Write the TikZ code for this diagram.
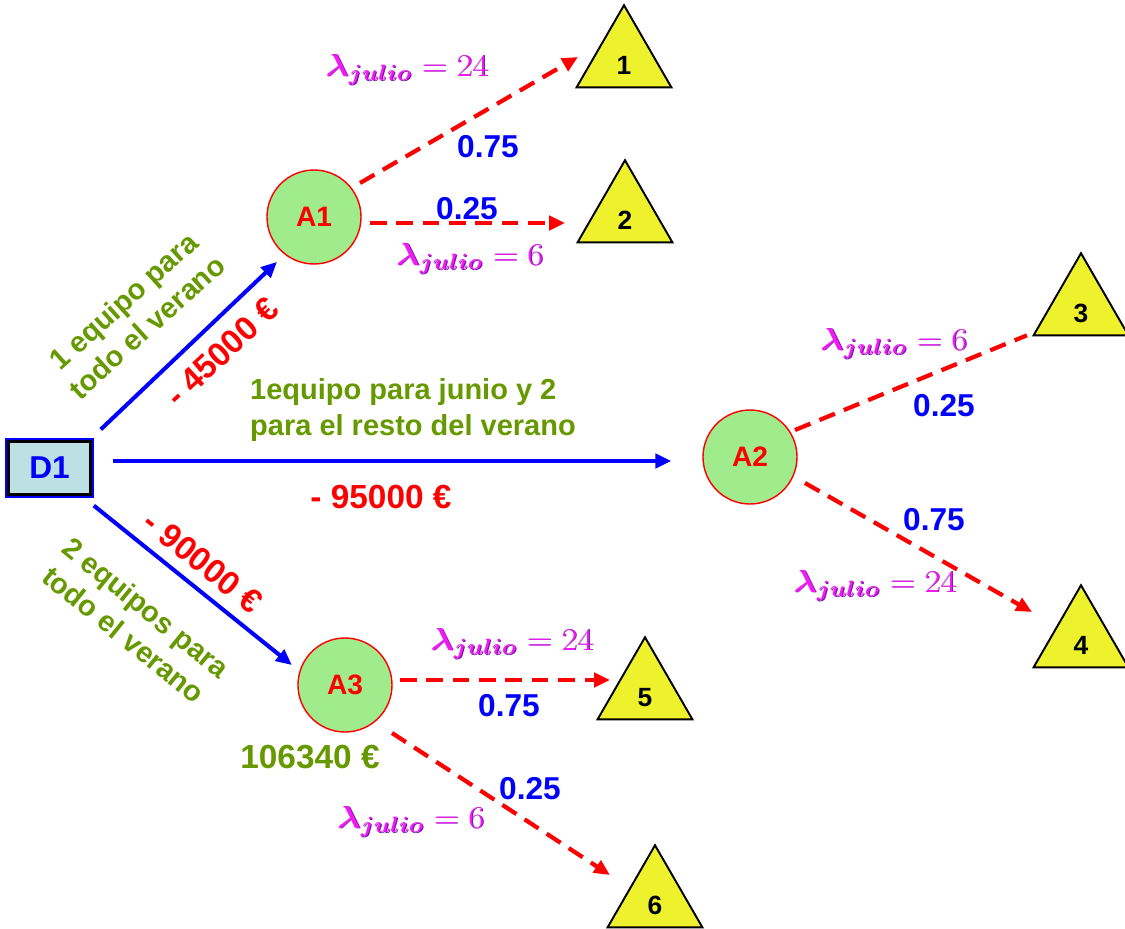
\RequirePackage{fix-cm}
\documentclass[tikz,border=0pt]{standalone}
\usepackage[no-math]{fontspec}
\setmainfont{Liberation Sans}
\usepackage{bm}
\usepackage{graphicx}
\usetikzlibrary{shapes.geometric,arrows.meta}

\definecolor{chancecol}{RGB}{160,236,140}
\definecolor{leafcol}{RGB}{238,242,44}
\definecolor{boxcol}{RGB}{189,224,228}
\definecolor{optcol}{RGB}{102,153,0}
\definecolor{lamcol}{RGB}{245,25,245}
\definecolor{lamshade}{RGB}{110,20,170}

\newcommand\lamjulio[1]{\scalebox{1.1}[1]{%
  \rlap{\kern0.5pt\raisebox{-0.5pt}{\color{lamshade}$\bm{\lambda}_{\bm{julio}}=#1$}}%
  \color{lamcol}$\bm{\lambda}_{\bm{julio}}=#1$}}

\tikzset{
  chance/.style={circle, draw=red, line width=0.8pt, fill=chancecol,
                 minimum size=18.8mm, inner sep=0, text=red,
                 font=\fontsize{16}{19}\selectfont\bfseries},
  leaf/.style={regular polygon, regular polygon sides=3, draw=black,
               line width=1.1pt, fill=leafcol, minimum size=21.9mm,
               inner sep=0, text height=16.4pt, text depth=0pt,
               font=\fontsize{15}{18}\selectfont\bfseries},
  choice arrow/.style={-{Triangle[length=9pt,width=8pt]}, blue, line width=2.3pt},
  risk line/.style={red, line width=2.4pt, dash pattern=on 9.5pt off 5.5pt},
  risk arrow/.style={risk line, -{Triangle[length=9pt,width=8pt]}},
}

\begin{document}
\begin{tikzpicture}[x=0.2mm, y=-0.2mm,
      prob/.style={text=blue, font=\fontsize{18}{21}\selectfont\bfseries},
      cost/.style={text=red, font=\fontsize{19}{22}\selectfont\bfseries},
      option/.style={text=optcol, align=center,
                     font=\fontsize{16.5}{20}\selectfont\bfseries},
      rate/.style={anchor=base, inner sep=0, font=\fontsize{18}{21}\selectfont},
    ]
    \useasboundingbox (0,0) rectangle (1125,929);

    % ======== DECISION ========
    \node[draw=black, line width=1.5pt, fill=boxcol,
          preaction={draw=blue, line width=3.8pt},
          minimum width=16.4mm, minimum height=10.5mm, inner sep=0,
          text=blue, font=\fontsize{18}{21}\selectfont\bfseries]
      (d1) at (49.5,468) {D1};

    % ======== CHANCE NODES ========
    \node[chance] (a1) at (314,217) {A1};
    \node[chance] (a2) at (750,457) {A2};
    \node[chance] (a3) at (345,685) {A3};

    % ======== OUTCOMES ========
    \foreach \n/\x/\y in {1/624/60, 2/625/215, 3/1081/308,
                          4/1081/640, 5/645/692, 6/655/900} {
      \node[leaf] (t\n) at (\x,\y) {\n};
    }

    % ======== ALTERNATIVES ========
    \draw[choice arrow] ([shift={(9,-11)}]d1.north east) -- (a1.232)
      [shorten >=6pt];
    \draw[choice arrow] ([shift={(21,-7)}]d1.east) -- ([shift={(-31,4)}]a2.west);
    \draw[choice arrow] ([shift={(2,10)}]d1.south east) -- (a3.163)
      [shorten >=5.5pt];

    \node[option, rotate=42] (optA) at (135,314) {1 equipo para\\todo el verano};
    \node[cost, rotate=43] (costA) at (222,352) {- 45000 €};
    \node[option, align=left] (optB) at (413,410)
      {1equipo para junio y 2\\para el resto del verano};
    \node[cost] (costB) at (381,497) {- 95000 €};
    \node[cost, rotate=-39] (costC) at (203,562) {- 90000 €};
    \node[option, rotate=-39] (optC) at (135,621) {2 equipos para\\todo el verano};
    \node[cost, text=optcol] (evA3) at (310,757) {106340 €};

    % ======== STATES OF DEMAND ========
    \draw[risk arrow] ([shift={(46,-34)}]a1.center) -- ([shift={(-46,-3)}]t1.center);
    \draw[risk arrow] ([shift={(56,6)}]a1.center) -- ([shift={(-60,8)}]t2.center);
    \draw[risk line]  ([shift={(45,-27)}]a2.center) -- ([shift={(-5,-1)}]t3.corner 2);
    \draw[risk arrow] ([shift={(55,26)}]a2.center) -- ([shift={(-49,-28)}]t4.center);
    \draw[risk arrow] ([shift={(55,-5)}]a3.center) -- ([shift={(-35,-12)}]t5.center);
    \draw[risk arrow] ([shift={(47,48)}]a3.center) -- ([shift={(-45,-25)}]t6.center);

    % probabilities
    \node[prob] (p1) at (488,147) {0.75};
    \node[prob] (p2) at (467,209) {0.25};
    \node[prob] (p3) at (944,406) {0.25};
    \node[prob] (p4) at (934,520) {0.75};
    \node[prob] (p5) at (509,706) {0.75};
    \node[prob] (p6) at (530,789) {0.25};

    % demand rates
    \node[rate] (r1) at (407,76)  {\lamjulio{24}};
    \node[rate] (r2) at (470,265) {\lamjulio{6}};
    \node[rate] (r3) at (894,350) {\lamjulio{6}};
    \node[rate] (r4) at (875,592) {\lamjulio{24}};
    \node[rate] (r5) at (512,650) {\lamjulio{24}};
    \node[rate] (r6) at (411,828) {\lamjulio{6}};

  \end{tikzpicture}
\end{document}
